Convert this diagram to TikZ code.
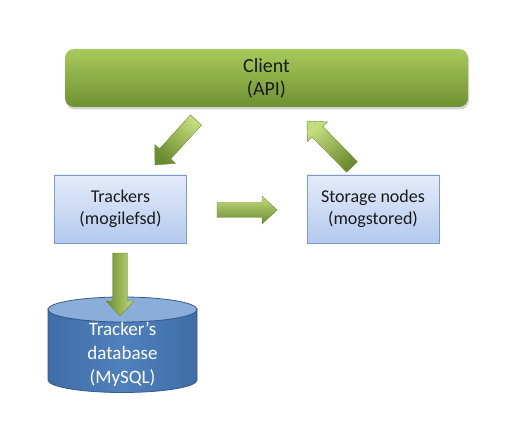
\documentclass[tikz,border=0pt]{standalone}
\usepackage{fontspec}
\setmainfont{Carlito}
\usetikzlibrary{calc,shadows}
\definecolor{gTop}{HTML}{A8CA5C}
\definecolor{gBot}{HTML}{6F9031}
\definecolor{gLight}{HTML}{C4DC7E}
\definecolor{gMid}{HTML}{9BBB59}
\definecolor{gDark}{HTML}{6B8B2E}
\definecolor{bTop}{HTML}{E4EBF9}
\definecolor{bBot}{HTML}{B4CAEE}
\definecolor{bBorder}{HTML}{7B9BCB}
\definecolor{dbBody}{HTML}{4F81BD}
\definecolor{dbSide}{HTML}{3F6DA6}
\definecolor{dbTop}{HTML}{8AADD9}
\definecolor{dbLine}{HTML}{35598A}
\definecolor{txt}{HTML}{1A1A1A}
\tikzset{
  clientbox/.style={rounded corners=9pt, top color=gTop, bottom color=gBot,
    minimum width=403pt, minimum height=58pt, align=center, text=txt,
    font=\fontsize{20}{23}\selectfont,
    drop shadow={opacity=0.35, shadow xshift=1pt, shadow yshift=-2.5pt}},
  bluebox/.style={draw=bBorder, line width=0.8pt, top color=bTop, bottom color=bBot,
    minimum width=132pt, minimum height=68pt, align=center, text=txt,
    font=\fontsize{18}{22}\selectfont},
  arrowfill/.style={draw=gDark, line width=0.4pt, top color=gLight, middle color=gMid, bottom color=gDark},
  dbtext/.style={align=center, text=white, font=\fontsize{19}{24}\selectfont}
}
\newcommand\barrow[3]{%
  \coordinate (hb) at ($(#2)!15pt!(#1)$);
  \path[arrowfill, shading angle=#3]
    ($(#1)!7.5pt!90:(#2)$) -- ($(hb)!7.5pt!-90:(#1)$) -- ($(hb)!14pt!-90:(#1)$) --
    (#2) -- ($(hb)!14pt!90:(#1)$) -- ($(hb)!7.5pt!90:(#1)$) --
    ($(#1)!7.5pt!-90:(#2)$) -- cycle;
}
\begin{document}
\begin{tikzpicture}[x=1pt,y=-1pt]
\path[use as bounding box, fill=white] (0,0) rectangle (514,422);

% client
\node[clientbox] (client) at (266.5,78) {Client\\(API)};

% boxes
\node[bluebox] (trackers) at (120.5,209) {Trackers\\(mogilefsd)};
\node[bluebox] (storage) at (373,209) {Storage nodes\\(mogstored)};

% database cylinder
\path[left color=dbSide, right color=dbSide, middle color=dbBody, draw=dbLine, line width=0.8pt]
  (48,309.5) -- (48,380) arc[start angle=180, end angle=360, x radius=74.5pt, y radius=12.5pt]
  -- (197,309.5) arc[start angle=0, end angle=180, x radius=74.5pt, y radius=-12.5pt] -- cycle;
\path[fill=dbTop, draw=dbLine, line width=0.8pt] (122.5,309.5) ellipse[x radius=74.5pt, y radius=12.5pt];
\node[dbtext] (db) at (122.5,354) {Tracker’s\\database\\(MySQL)};

% arrow end points
\coordinate (c1) at (196,120);
\coordinate (t1) at (155,165);
\coordinate (s1) at (352,167);
\coordinate (c2) at (307,121);
\coordinate (t2) at (217,210);
\coordinate (s2) at (277,210);
\coordinate (t3) at (120,253);
\coordinate (d3) at (120,316);

\barrow{c1}{t1}{-42}
\barrow{s1}{c2}{42}
\barrow{t2}{s2}{0}
\barrow{t3}{d3}{-90}
\end{tikzpicture}
\end{document}
